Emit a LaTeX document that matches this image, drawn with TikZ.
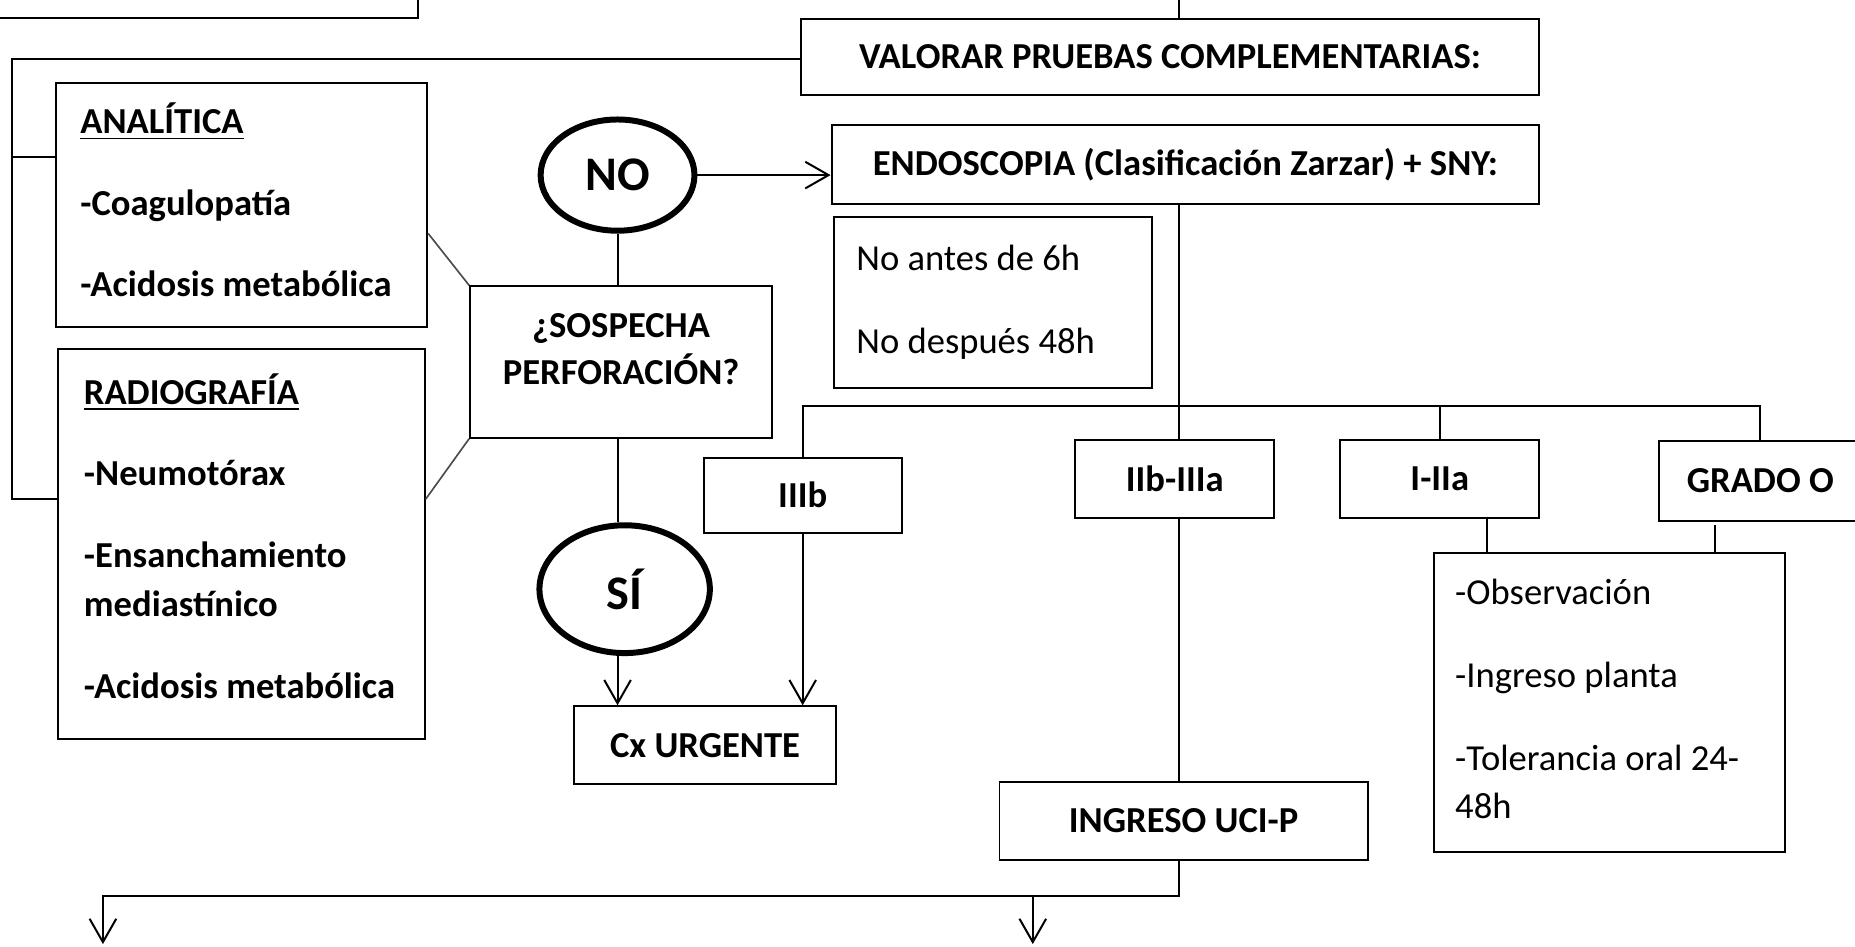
\documentclass[tikz,border=0pt]{standalone}
\usepackage{fontspec}
\setmainfont{Carlito}
\usetikzlibrary{shapes.geometric,arrows.meta,calc}

\begin{document}
\begin{tikzpicture}[x=0.0125cm,y=-0.0125cm,
  box/.style={draw,line width=0.6pt,inner sep=0pt,font=\fontsize{11}{13}\selectfont\bfseries},
  listbox/.style={draw,line width=0.6pt,inner ysep=0pt,align=flush left},
  answer/.style={draw,ellipse,line width=1.8pt,inner sep=0pt,font=\fontsize{14.5}{16}\selectfont\bfseries},
  wire/.style={line width=0.6pt},
  diag/.style={line width=0.5pt,black!70},
  arr/.style={line width=0.6pt,-{Straight Barb[length=7pt,width=8pt]}}]

\useasboundingbox (0,0) rectangle (1568,800);
\clip (0,0) rectangle (1568,800);

% what is left of the box above
\draw[wire] (-5,15) -- (353,15) -- (353,-5);

\node[box,minimum width=7.8cm,minimum height=0.8cm] (val) at (989,48) {VALORAR PRUEBAS COMPLEMENTARIAS:};
\node[box,minimum width=7.475cm,minimum height=0.825cm] (endo) at (1002,139) {ENDOSCOPIA (Clasificación Zarzar) + SNY:};

\node[listbox,text width=3.4cm,inner xsep=0.2625cm,minimum height=2.575cm,font=\fontsize{11}{24.5}\selectfont\bfseries] (ana) at (204,173)
  {\underline{ANALÍTICA}\\-Coagulopatía\\-Acidosis metabólica\\[-21.7pt]\mbox{}};
\node[listbox,text width=3.325cm,inner xsep=0.275cm,minimum height=4.125cm,font=\fontsize{11}{14.9}\selectfont\bfseries] (rad) at (204,460)
  {\underline{RADIOGRAFÍA}\\[9.6pt]-Neumotórax\\[9.6pt]-Ensanchamiento\\mediastínico\\[9.6pt]-Acidosis metabólica\\[-9.9pt]\mbox{}};

\node[answer,minimum width=1.625cm,minimum height=1.175cm] (no) at (522,148) {NO};
\node[box,minimum width=3.19cm,minimum height=1.6cm,align=flush center,text depth=0.28cm,font=\fontsize{11}{14.2}\selectfont\bfseries] (sos) at (525,306)
  {¿SOSPECHA\\PERFORACIÓN?};
\node[answer,minimum width=1.8cm,minimum height=1.35cm] (si) at (528,498) {SÍ};
\node[box,minimum width=2.775cm,minimum height=0.825cm] (cx) at (596,630) {Cx URGENTE};

\node[listbox,text width=2.89cm,inner xsep=0.235cm,minimum height=1.81cm,font=\fontsize{11}{24.8}\selectfont] (wait) at (839.5,255.5)
  {No antes de 6h\\No después 48h};

\node[box,minimum width=2.09cm,minimum height=0.79cm] (iiib) at (678.5,418.5) {IIIb};
\node[box,minimum width=2.1cm,minimum height=0.825cm] (iib) at (993,405) {IIb-IIIa};
\node[box,minimum width=2.1cm,minimum height=0.825cm] (ia) at (1217,405) {I-IIa};
\node[box,minimum width=2.15cm,minimum height=0.84cm] (gr) at (1488,406.5) {GRADO O};

\node[listbox,text width=3.26cm,inner xsep=0.225cm,minimum height=3.16cm,font=\fontsize{11}{14.2}\selectfont] (obs) at (1360.5,593.5)
  {-Observación\\[10.8pt]-Ingreso planta\\[10.8pt]-Tolerancia oral 24-\\48h\\[-12.1pt]\mbox{}};
\node[box,minimum width=3.89cm,minimum height=0.825cm] (uci) at (1000.5,694) {INGRESO UCI-P};

% connectors
\coordinate (topin) at (997,0);
\coordinate (bk0) at (10,50);
\coordinate (bk1) at (10,133);
\coordinate (bk2) at (10,422);
\coordinate (hub) at (997,343);
\coordinate (ia2) at ($(ia.south)+(40,0)$);
\coordinate (gr2) at ($(gr.south)+(-38,3)$);
\coordinate (split) at (997,757);
\coordinate (outa) at (87,798);
\coordinate (outb) at (873,798);

\draw[wire] (topin) -- (topin |- val.north);
\draw[wire] (bk0 -| val.west) -- (bk0) -- (bk2) -- (bk2 -| rad.west);
\draw[wire] (bk1) -- (bk1 -| ana.west);
\draw[diag] ($(ana.north east)!0.617!(ana.south east)$) -- (sos.north west);
\draw[diag] (sos.south west) -- ($(rad.north east)!0.385!(rad.south east)$);

\draw[arr] (no.east) -- (no.east -| endo.west);
\draw[wire] (no.south) -- (no.south |- sos.north);
\draw[wire] (no.south |- sos.south) -- (no.south |- si.north);
\draw[arr] (si.south -| no.south) -- (no.south |- cx.north);

\draw[wire] (endo.south -| hub) -- (hub) -- (hub |- iib.north);
\draw[wire] (iiib.north) |- (gr.north |- hub) -- (gr.north);
\draw[wire] (ia.north) -- (ia.north |- hub);
\draw[arr] (iiib.south) -- (iiib.south |- cx.north);
\draw[wire] (iib.south -| hub) -- (hub |- uci.north);
\draw[wire] (ia2) -- (ia2 |- obs.north);
\draw[wire] (gr2) -- (gr2 |- obs.north);

\draw[arr] (uci.south -| hub) -- (split) -| (outa);
\draw[arr] (split -| outb) -- (outb);

\end{tikzpicture}
\end{document}
